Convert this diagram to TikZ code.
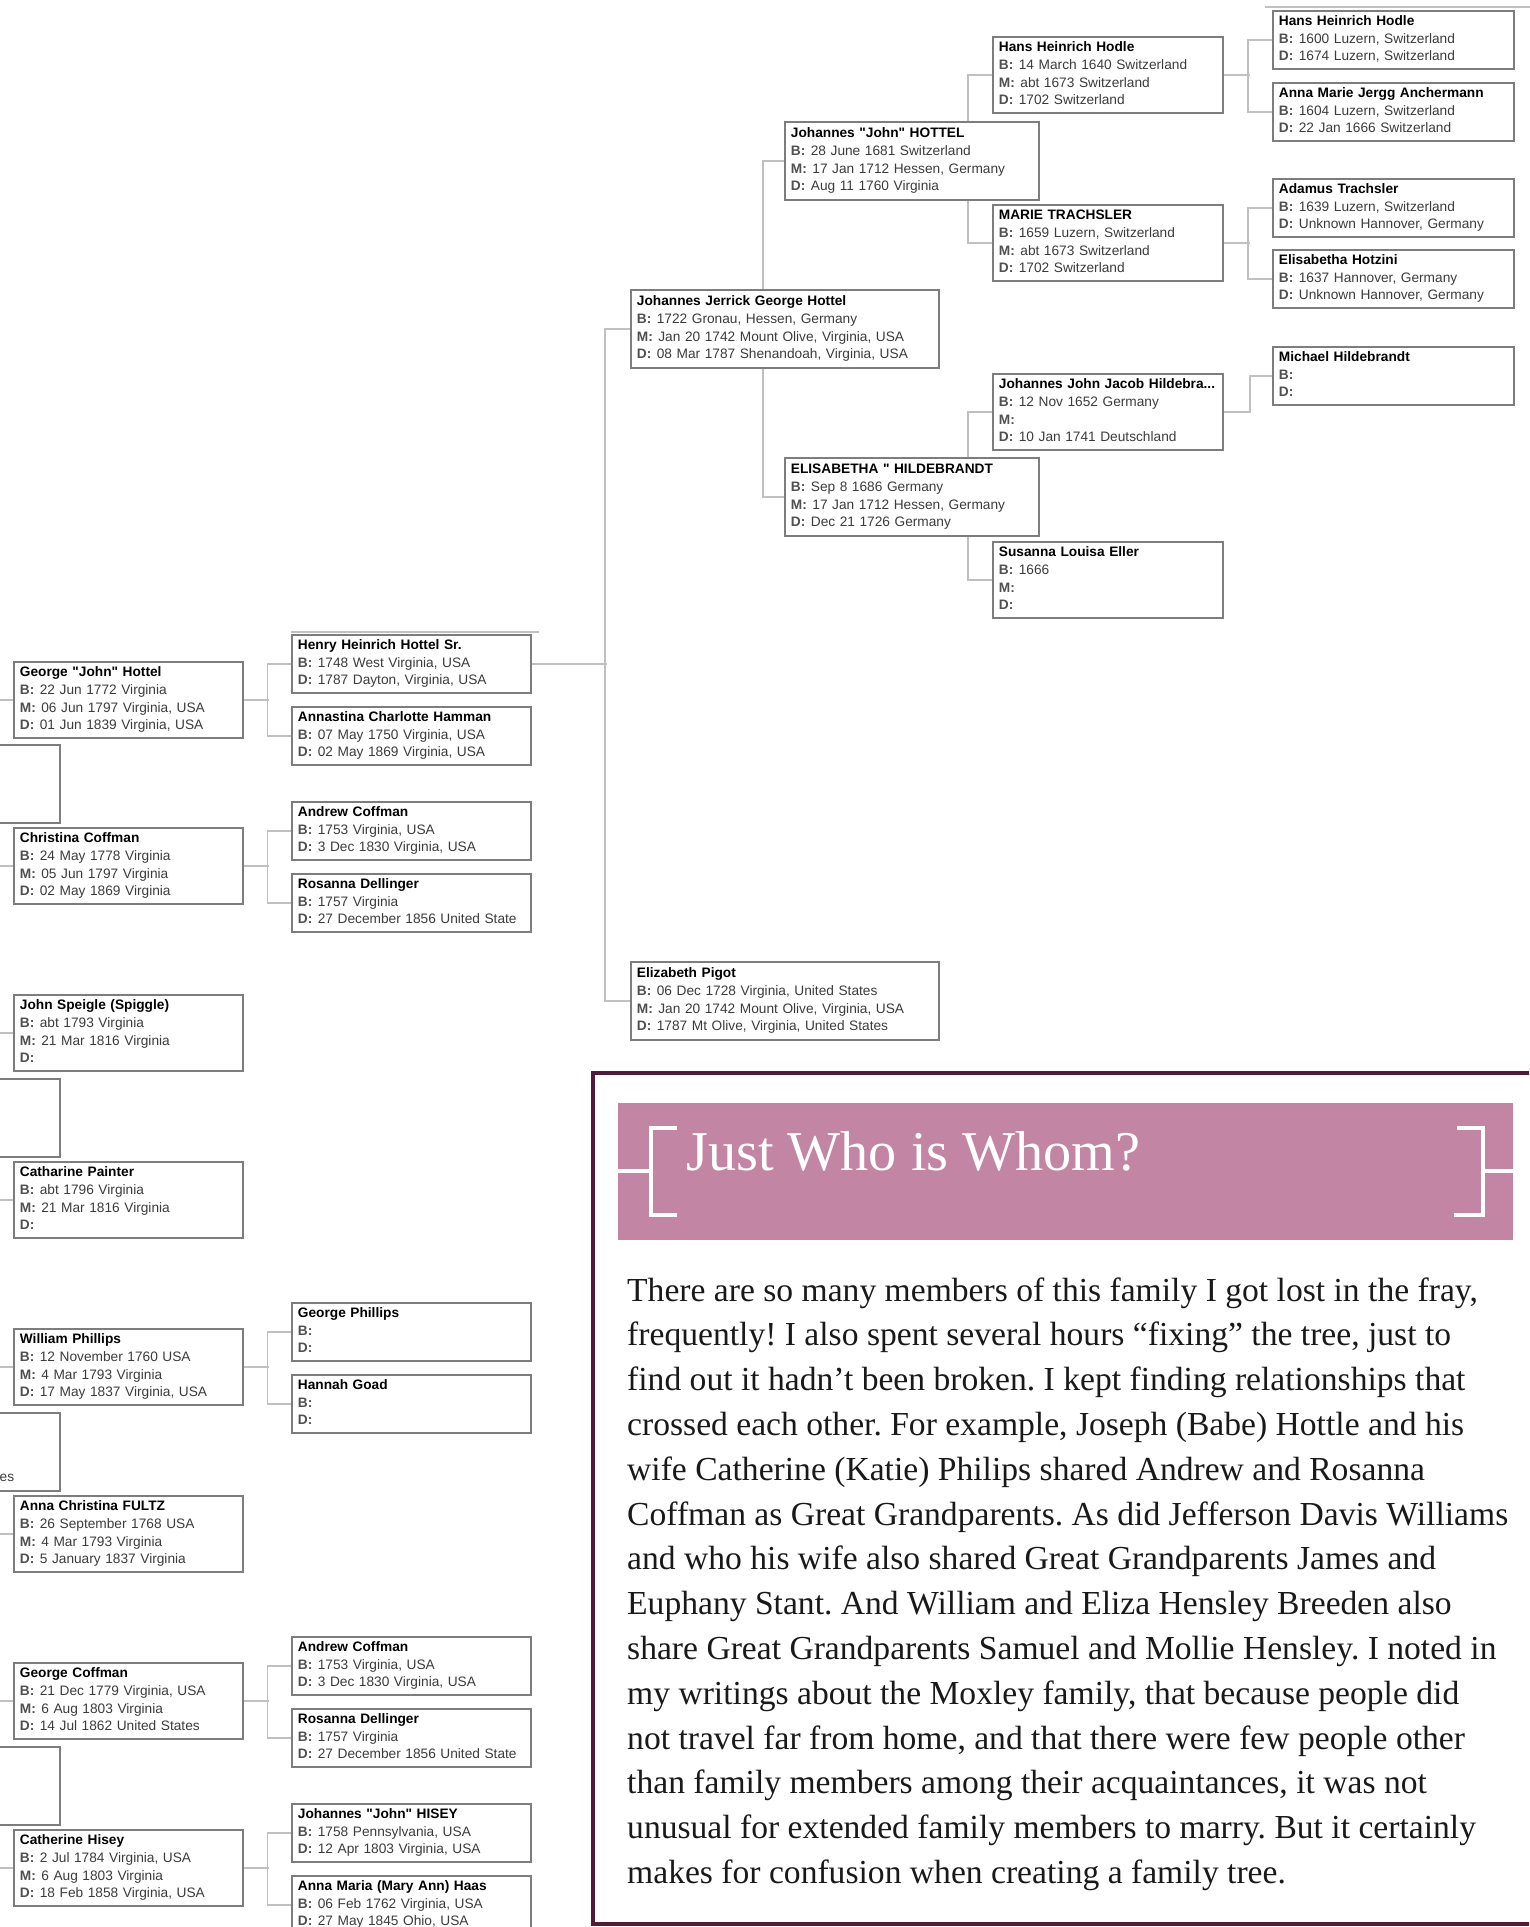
\documentclass[tikz,border=0pt]{standalone}
\usepackage{fontspec}
\setmainfont{Liberation Serif}
\newfontfamily\chartfont{Liberation Sans}
\usepackage{tikz}
\usetikzlibrary{positioning,backgrounds}
\frenchspacing

\definecolor{boxgray}{RGB}{125,125,125}
\definecolor{linkgray}{RGB}{192,192,192}
\definecolor{labelgray}{RGB}{80,80,80}
\definecolor{valgray}{RGB}{60,60,60}
\definecolor{plum}{RGB}{82,27,58}
\definecolor{rosebar}{RGB}{194,133,163}
\definecolor{inkblack}{RGB}{25,25,25}

\newcommand{\lnstrut}{\rule[-3.5pt]{0pt}{17.2pt}}
\newcommand{\who}[1]{\textbf{#1}\lnstrut}
\newcommand{\fact}[2]{\\\textcolor{labelgray}{\textbf{#1:}}\hspace{5.5pt}\textcolor{valgray}{#2}\lnstrut}

\begin{document}
\begin{tikzpicture}[x=1pt, y=-1pt,
        personbox/.style={rectangle, draw=boxgray, line width=1.8pt, fill=white, anchor=north west, inner xsep=6pt, inner ysep=0pt, align=left, font=\chartfont\fontsize{13.7}{17.6}\selectfont, execute at end node={\rule[-7pt]{0pt}{7pt}}},
        fourline/.style={personbox, minimum height=76pt, text width=#1},
        threeline/.style={personbox, minimum height=58pt, text width=#1},
        link/.style={draw=linkgray, line width=1.6pt},
        bracket/.style={draw=white, line width=4pt},
        bodyline/.style={anchor=base west, inner sep=0pt, text=inkblack, font=\fontsize{33.6}{40}\selectfont},
    ]
    \useasboundingbox (0,0) rectangle (1529,1927);
    \clip (0,0) rectangle (1529,1927);

    % left column
    \node[fourline=217pt] (georgej)   at (13,661)  {\who{George "John" Hottel}\fact{B}{22 Jun 1772 Virginia}\fact{M}{06 Jun 1797 Virginia, USA}\fact{D}{01 Jun 1839 Virginia, USA}};
    \node[fourline=217pt] (christina) at (13,827)  {\who{Christina Coffman}\fact{B}{24 May 1778 Virginia}\fact{M}{05 Jun 1797 Virginia}\fact{D}{02 May 1869 Virginia}};
    \node[fourline=217pt] (speigle)   at (13,994)  {\who{John Speigle (Spiggle)}\fact{B}{abt 1793 Virginia}\fact{M}{21 Mar 1816 Virginia}\fact{D}{}};
    \node[fourline=217pt] (painter)   at (13,1161) {\who{Catharine Painter}\fact{B}{abt 1796 Virginia}\fact{M}{21 Mar 1816 Virginia}\fact{D}{}};
    \node[fourline=217pt] (william)   at (13,1328) {\who{William Phillips}\fact{B}{12 November 1760 USA}\fact{M}{4 Mar 1793 Virginia}\fact{D}{17 May 1837 Virginia, USA}};
    \node[fourline=217pt] (fultz)     at (13,1495) {\who{Anna Christina FULTZ}\fact{B}{26 September 1768 USA}\fact{M}{4 Mar 1793 Virginia}\fact{D}{5 January 1837 Virginia}};
    \node[fourline=217pt] (georgec)   at (13,1662) {\who{George Coffman}\fact{B}{21 Dec 1779 Virginia, USA}\fact{M}{6 Aug 1803 Virginia}\fact{D}{14 Jul 1862 United States}};
    \node[fourline=217pt] (hisey)     at (13,1829) {\who{Catherine Hisey}\fact{B}{2 Jul 1784 Virginia, USA}\fact{M}{6 Aug 1803 Virginia}\fact{D}{18 Feb 1858 Virginia, USA}};

    % children cut off at the page edge
    \node[fourline=217pt, minimum height=78pt] (kidA) at (-170,744)  {};
    \node[fourline=217pt, minimum height=78pt] (kidB) at (-170,1078) {};
    \node[fourline=217pt, minimum height=78pt] (kidC) at (-170,1412) {};
    \node[fourline=217pt, minimum height=78pt] (kidD) at (-170,1746) {};
    \node[anchor=base west, inner sep=0pt, font=\chartfont\fontsize{13.7}{17.6}\selectfont, text=valgray] (esbit) at (-0.5,1481) {es};

    % second column
    \node[threeline=227pt] (henry)     at (291,634)  {\who{Henry Heinrich Hottel Sr.}\fact{B}{1748 West Virginia, USA}\fact{D}{1787 Dayton, Virginia, USA}};
    \node[threeline=227pt] (annastina) [below=12pt of henry]   {\who{Annastina Charlotte Hamman}\fact{B}{07 May 1750 Virginia, USA}\fact{D}{02 May 1869 Virginia, USA}};
    \node[threeline=227pt] (andrewA)   at (291,801)  {\who{Andrew Coffman}\fact{B}{1753 Virginia, USA}\fact{D}{3 Dec 1830 Virginia, USA}};
    \node[threeline=227pt] (rosannaA)  [below=12pt of andrewA] {\who{Rosanna Dellinger}\fact{B}{1757 Virginia}\fact{D}{27 December 1856 United State}};
    \node[threeline=227pt] (georgep)   at (291,1302) {\who{George Phillips}\fact{B}{}\fact{D}{}};
    \node[threeline=227pt] (hannah)    [below=12pt of georgep] {\who{Hannah Goad}\fact{B}{}\fact{D}{}};
    \node[threeline=227pt] (andrewB)   at (291,1636) {\who{Andrew Coffman}\fact{B}{1753 Virginia, USA}\fact{D}{3 Dec 1830 Virginia, USA}};
    \node[threeline=227pt] (rosannaB)  [below=12pt of andrewB] {\who{Rosanna Dellinger}\fact{B}{1757 Virginia}\fact{D}{27 December 1856 United State}};
    \node[threeline=227pt] (johnhisey) at (291,1803) {\who{Johannes "John" HISEY}\fact{B}{1758 Pennsylvania, USA}\fact{D}{12 Apr 1803 Virginia, USA}};
    \node[threeline=227pt] (haas)      [below=12pt of johnhisey] {\who{Anna Maria (Mary Ann) Haas}\fact{B}{06 Feb 1762 Virginia, USA}\fact{D}{27 May 1845 Ohio, USA}};

    % upper tree
    \node[fourline=296pt, minimum height=78pt] (jerrick) at (630,289) {\who{Johannes Jerrick George Hottel}\fact{B}{1722 Gronau, Hessen, Germany}\fact{M}{Jan 20 1742 Mount Olive, Virginia, USA}\fact{D}{08 Mar 1787 Shenandoah, Virginia, USA}};
    \node[fourline=296pt, minimum height=78pt] (pigot)   at (630,961) {\who{Elizabeth Pigot}\fact{B}{06 Dec 1728 Virginia, United States}\fact{M}{Jan 20 1742 Mount Olive, Virginia, USA}\fact{D}{1787 Mt Olive, Virginia, United States}};
    \node[fourline=242pt, minimum height=78pt] (hottel)  at (784,121) {\who{Johannes "John" HOTTEL}\fact{B}{28 June 1681 Switzerland}\fact{M}{17 Jan 1712 Hessen, Germany}\fact{D}{Aug 11 1760 Virginia}};
    \node[fourline=242pt, minimum height=78pt] (elisabetha) at (784,457) {\who{ELISABETHA " HILDEBRANDT}\fact{B}{Sep 8 1686 Germany}\fact{M}{17 Jan 1712 Hessen, Germany}\fact{D}{Dec 21 1726 Germany}};
    \node[fourline=218pt] (hodle)   at (992,36)  {\who{Hans Heinrich Hodle}\fact{B}{14 March 1640 Switzerland}\fact{M}{abt 1673 Switzerland}\fact{D}{1702 Switzerland}};
    \node[fourline=218pt] (marie)   at (992,204) {\who{MARIE TRACHSLER}\fact{B}{1659 Luzern, Switzerland}\fact{M}{abt 1673 Switzerland}\fact{D}{1702 Switzerland}};
    \node[fourline=218pt] (jacob)   at (992,373) {\who{Johannes John Jacob Hildebra...}\fact{B}{12 Nov 1652 Germany}\fact{M}{}\fact{D}{10 Jan 1741 Deutschland}};
    \node[fourline=218pt] (susanna) at (992,541) {\who{Susanna Louisa Eller}\fact{B}{1666}\fact{M}{}\fact{D}{}};
    \node[threeline=229pt] (hodleB)     at (1272,10)  {\who{Hans Heinrich Hodle}\fact{B}{1600 Luzern, Switzerland}\fact{D}{1674 Luzern, Switzerland}};
    \node[threeline=229pt] (anchermann) [below=12pt of hodleB] {\who{Anna Marie Jergg Anchermann}\fact{B}{1604 Luzern, Switzerland}\fact{D}{22 Jan 1666 Switzerland}};
    \node[threeline=229pt] (adamus)     at (1272,178) {\who{Adamus Trachsler}\fact{B}{1639 Luzern, Switzerland}\fact{D}{Unknown Hannover, Germany}};
    \node[threeline=229pt] (hotzini)    [below=11pt of adamus] {\who{Elisabetha Hotzini}\fact{B}{1637 Hannover, Germany}\fact{D}{Unknown Hannover, Germany}};
    \node[threeline=229pt] (michael)    at (1272,346) {\who{Michael Hildebrandt}\fact{B}{}\fact{D}{}};

    % connectors behind the boxes
    \begin{scope}[on background layer]
        \foreach \kid in {georgej,christina,speigle,painter,william,fultz,georgec,hisey}
            \draw[link] (\kid.west) -- ++(-20,0);
        \draw[link] (georgej.east) -- ++(25.5,0);
        \draw[link] (henry.west) -- ++(-23.5,0) |- (annastina.west);
        \draw[link] (christina.east) -- ++(25.5,0);
        \draw[link] (andrewA.west) -- ++(-23.5,0) |- (rosannaA.west);
        \draw[link] (william.east) -- ++(25.5,0);
        \draw[link] (georgep.west) -- ++(-23.5,0) |- (hannah.west);
        \draw[link] (georgec.east) -- ++(25.5,0);
        \draw[link] (andrewB.west) -- ++(-23.5,0) |- (rosannaB.west);
        \draw[link] (hisey.east) -- ++(25.5,0);
        \draw[link] (johnhisey.west) -- ++(-23.5,0) |- (haas.west);
        \draw[link] ([yshift=2pt]henry.north west) -- ++(248,0);
        \draw[link] (henry.east) -- ++(75,0);
        \draw[link] (jerrick.west) -- ++(-25,0) |- (pigot.west);
        \draw[link] (hottel.west) -- ++(-21,0) |- (elisabetha.west);
        \draw[link] (hodle.west) -- ++(-24,0) |- (marie.west);
        \draw[link] (jacob.west) -- ++(-24,0) |- (susanna.west);
        \draw[link] (hodle.east) -- ++(26,0);
        \draw[link] (hodleB.west) -- ++(-24,0) |- (anchermann.west);
        \draw[link] (marie.east) -- ++(26,0);
        \draw[link] (adamus.west) -- ++(-24,0) |- (hotzini.west);
        \draw[link] (jacob.east) -- ++(26,0) |- (michael.west);
        \draw[link] ([shift={(-7pt,3pt)}]hodleB.north west) -- ++(270,0);
    \end{scope}

    % text panel
    \draw[draw=plum, line width=4pt] (593,1073) rectangle (1560,1924);
    \fill[rosebar] (618,1103) rectangle (1513,1240);
    \draw[bracket] (618,1171) -- (651,1171);
    \draw[bracket] (677,1128) -- (651,1128) -- (651,1215) -- (677,1215);
    \draw[bracket] (1513,1171) -- (1483,1171);
    \draw[bracket] (1457,1128) -- (1483,1128) -- (1483,1215) -- (1454,1215);
    \node[anchor=base west, inner sep=0pt, text=white, font=\fontsize{56.2}{60}\selectfont] (title) at (686,1170) {Just Who is Whom?};

    \foreach \txt [count=\i] in {
        {There are so many members of this family I got lost in the fray,},
        {frequently! I also spent several hours “fixing” the tree, just to},
        {find out it hadn’t been broken. I kept finding relationships that},
        {crossed each other. For example, Joseph (Babe) Hottle and his},
        {wife Catherine (Katie) Philips shared Andrew and Rosanna},
        {Coffman as Great Grandparents. As did Jefferson Davis Williams},
        {and who his wife also shared Great Grandparents James and},
        {Euphany Stant. And William and Eliza Hensley Breeden also},
        {share Great Grandparents Samuel and Mollie Hensley. I noted in},
        {my writings about the Moxley family, that because people did},
        {not travel far from home, and that there were few people other},
        {than family members among their acquaintances, it was not},
        {unusual for extended family members to marry. But it certainly},
        {makes for confusion when creating a family tree.}}
        \node[bodyline] (line\i) at (627,{1256.2+44.8*\i}) {\txt};
\end{tikzpicture}
\end{document}
